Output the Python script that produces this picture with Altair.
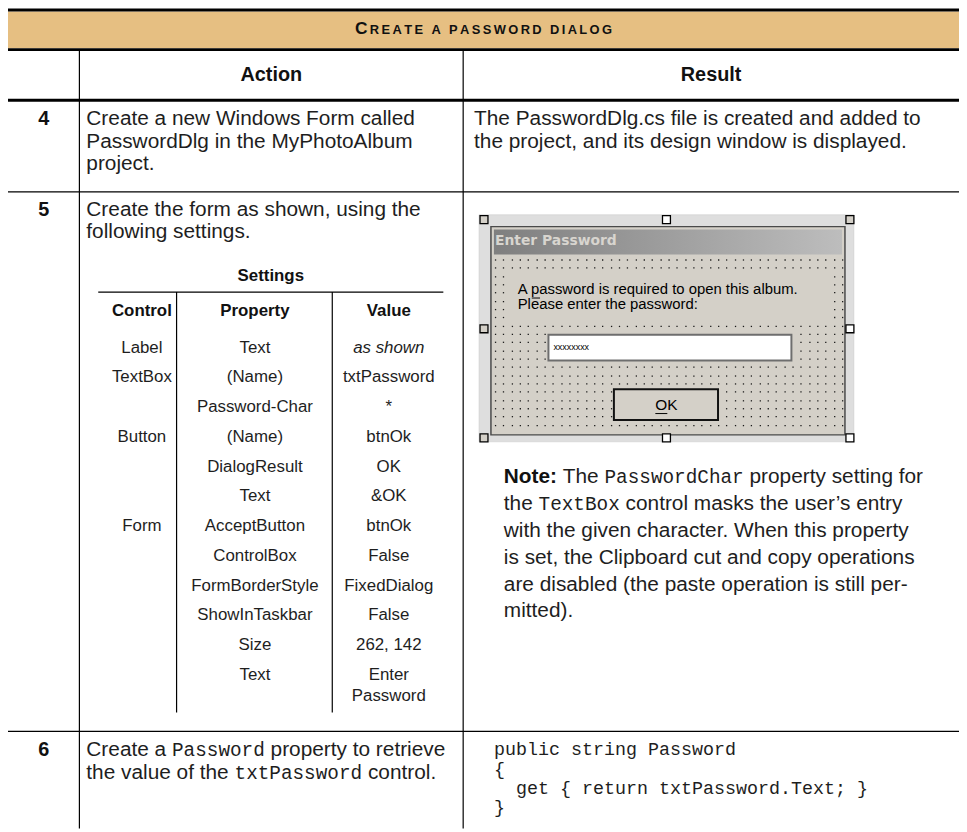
import altair as alt
import pandas as pd
import numpy as np

# ------------------------------------------------------------------ content
TITLE = "CREATE A PASSWORD DIALOG"
COL_HEADERS = ["Action", "Result"]
STEP_NUMBERS = ["4", "5", "6"]
ACTION_4 = ["Create a new Windows Form called", "PasswordDlg in the MyPhotoAlbum", "project."]
RESULT_4 = ["The PasswordDlg.cs file is created and added to",
            "the project, and its design window is displayed."]
ACTION_5 = ["Create the form as shown, using the", "following settings."]
SETTINGS_TITLE = "Settings"
SETTINGS_HEADERS = ["Control", "Property", "Value"]
SETTINGS_CONTROL = ["Label", "TextBox", "", "Button", "", "", "Form", "", "", "", "", ""]
SETTINGS_PROPERTY = ["Text", "(Name)", "Password-Char", "(Name)", "DialogResult", "Text",
                     "AcceptButton", "ControlBox", "FormBorderStyle", "ShowInTaskbar", "Size", "Text"]
SETTINGS_VALUE = ["as shown", "txtPassword", "*", "btnOk", "OK", "&OK", "btnOk", "False",
                  "FixedDialog", "False", "262, 142", "Enter\nPassword"]
DIALOG_TITLE = "Enter Password"
DIALOG_LABEL = ["A password is required to open this album.", "Please enter the password:"]
DIALOG_TEXTBOX = "xxxxxxxx"
DIALOG_BUTTON = "OK"
NOTE_LINES = [
    [("Note:", "bold"), (" The ", "reg"), ("PasswordChar", "mono"), (" property setting for", "reg")],
    [("the ", "reg"), ("TextBox", "mono"), (" control masks the user\u2019s entry", "reg")],
    [("with the given character. When this property", "reg")],
    [("is set, the Clipboard cut and copy operations", "reg")],
    [("are disabled (the paste operation is still per-", "reg")],
    [("mitted).", "reg")],
]
ACTION_6 = [
    [("Create a ", "reg"), ("Password", "mono"), (" property to retrieve", "reg")],
    [("the value of the ", "reg"), ("txtPassword", "mono"), (" control.", "reg")],
]
CODE_6 = ["public string Password", "{", "  get { return txtPassword.Text; }", "}"]

# ------------------------------------------------------------------ font metrics (Arial-compatible)
AR = {}
AR.update(dict(zip(" !\"#$%&'()*+,-./", [278, 278, 355, 556, 556, 889, 667, 191, 333, 333, 389, 584, 278, 333, 278, 278])))
AR.update({d: 556 for d in "0123456789"})
AR.update({":": 278, ";": 278, "?": 556, "\u2019": 222, "{": 334, "}": 334})
AR.update(dict(zip("ABCDEFGHIJKLMNOPQRSTUVWXYZ",
                   [667, 667, 722, 722, 667, 611, 778, 722, 278, 500, 667, 556, 833, 722, 778, 667, 778, 722, 667, 611, 722, 667, 944, 667, 667, 611])))
AR.update(dict(zip("abcdefghijklmnopqrstuvwxyz",
                   [556, 556, 500, 556, 556, 278, 556, 556, 222, 222, 500, 222, 833, 556, 556, 556, 556, 333, 500, 278, 556, 500, 722, 500, 500, 500])))
ARB = dict(AR)
ARB.update(dict(zip("ABCDEFGHIJKLMNOPQRSTUVWXYZ",
                    [722, 722, 722, 722, 667, 611, 778, 722, 278, 556, 722, 611, 833, 722, 778, 667, 778, 722, 667, 611, 722, 667, 944, 667, 667, 611])))
ARB.update(dict(zip("abcdefghijklmnopqrstuvwxyz",
                    [556, 611, 556, 611, 556, 333, 611, 611, 278, 278, 556, 278, 889, 611, 611, 611, 611, 389, 556, 333, 611, 556, 778, 556, 556, 500])))
ARB.update({":": 333})


def tw(s, size, st):
    if st == "mono":
        return 0.6 * size * len(s)
    table = ARB if st == "bold" else AR
    return sum(table.get(c, 556) for c in s) / 1000.0 * size


# ------------------------------------------------------------------ layout
BODY = 21
MONO = 19.5
T = []


def put(text, x, y, size, grp, align="left", base="middle"):
    T.append(dict(text=text, x=x, y=y, size=size, grp=grp, align=align, base=base))


def put_line(segs, x0, y, size, msize):
    x = x0
    for s, st in segs:
        sz = msize if st == "mono" else size
        lead = len(s) - len(s.lstrip(" "))
        core = s.strip(" ")
        if core:
            put(core, x + tw(" " * lead, sz, st), y, sz, st)
        x += tw(s, sz, st)


# title in small caps with tracking
tsizes = [17.5 if i == 0 else 13 for i in range(len(TITLE))]
track = 2.4
tot = sum(tw(c, s, "bold") for c, s in zip(TITLE, tsizes)) + track * (len(TITLE) - 1)
cx = 487.5 - tot / 2
for c, s in zip(TITLE, tsizes):
    if c != " ":
        put(c, cx, 31, s, "bold", base="alphabetic")
    cx += tw(c, s, "bold") + track

put(COL_HEADERS[0], 273.5, 72, 20, "bold", "center")
put(COL_HEADERS[1], 717, 72, 20, "bold", "center")

row_y = [117, 208, 753]
for n, y in zip(STEP_NUMBERS, row_y):
    put(n, 44, y, 20, "bold", "center")

LEAD = 22.5
for i, s in enumerate(ACTION_4):
    put(s, 87, 117 + i * LEAD, BODY, "reg")
for i, s in enumerate(RESULT_4):
    put(s, 478, 117 + i * LEAD, BODY, "reg")
for i, s in enumerate(ACTION_5):
    put(s, 87, 208 + i * LEAD, BODY, "reg")

# settings sub-table
put(SETTINGS_TITLE, 273, 275, 17, "bold", "center")
col_x = [143, 257, 392]
for h, x in zip(SETTINGS_HEADERS, col_x):
    put(h, x, 310, 17, "bold", "center")
for i, (c, p, v) in enumerate(zip(SETTINGS_CONTROL, SETTINGS_PROPERTY, SETTINGS_VALUE)):
    y = 347 + i * 30
    if c:
        put(c, col_x[0], y, 17, "reg", "center")
    put(p, col_x[1], y, 17, "reg", "center")
    for j, part in enumerate(v.split("\n")):
        put(part, col_x[2], y + j * 21.5, 17, "italic" if i == 0 else "reg", "center")

# note paragraph
for i, segs in enumerate(NOTE_LINES):
    put_line(segs, 508, 478 + i * 27, BODY, MONO)

# step 6
for i, segs in enumerate(ACTION_6):
    put_line(segs, 87, 753 + i * 23.5, BODY, MONO)
for i, s in enumerate(CODE_6):
    lead = len(s) - len(s.lstrip(" "))
    put(s.strip(), 498 + lead * 0.6 * 18.5, 752 + i * 19.5, 18.5, "mono")

# dialog texts
DLG = 15
put(DIALOG_TITLE, 499, 240, 14, "dtitle")
for i, s in enumerate(DIALOG_LABEL):
    put(s, 522, 288 + i * 15.5, DLG, "dlg")
put(DIALOG_TEXTBOX, 558, 346, 9, "dlg")
put(DIALOG_BUTTON, 672, 404.5, 15.5, "dlg", "center")

# ------------------------------------------------------------------ rules
R = []


def rule(x, x2, y, y2, w, c="#000000"):
    R.append(dict(x=x, x2=x2, y=y, y2=y2, w=w, c=c))


rule(8, 967, 6.5, 6.5, 3)
rule(8, 967, 46.5, 46.5, 3)
rule(8, 967, 97.5, 97.5, 3)
rule(8, 967, 190, 190, 1.2)
rule(8, 967, 734, 734, 1.2)
rule(80, 80, 48, 832, 1.2)
rule(467, 467, 48, 832, 1.2)
rule(99, 447, 291, 291, 1.2)
rule(178, 178, 291, 715, 1.2)
rule(335, 335, 291, 715, 1.2)
# mnemonic underlines in the dialog
ux = 522 + tw("A ", DLG, "reg")
rule(ux, ux + tw("p", DLG, "reg"), 297, 297, 1)
okw = tw("OK", 15.5, "reg")
rule(672 - okw / 2, 672 - okw / 2 + tw("O", 15.5, "reg"), 413.5, 413.5, 1)

# ------------------------------------------------------------------ rectangles
base_rects = pd.DataFrame([
    dict(x=8, x2=967, y=8, y2=45, fill="#E6BF82", stroke="#E6BF82", sw=0),
    dict(x=483, x2=861, y=213, y2=442, fill="#DEDEDE", stroke="#C8C8C8", sw=0.5),
    dict(x=495, x2=852, y=225, y2=435, fill="#D4D0C8", stroke="#4A4A4A", sw=1.5),
])
control_rects = pd.DataFrame([
    dict(x=553, x2=798, y=334, y2=360, fill="#FFFFFF", stroke="#6E6E6E", sw=2),
    dict(x=619, x2=724, y=389, y2=420, fill="#D4D0C8", stroke="#111111", sw=2),
])
handles_c = [(488, 218, "#D4D0C8"), (672, 218, "#FFFFFF"), (857, 218, "#D4D0C8"),
             (488, 328, "#D4D0C8"), (857, 328, "#FFFFFF"),
             (488, 438, "#D4D0C8"), (672, 438, "#FFFFFF"), (857, 438, "#FFFFFF")]
handles = pd.DataFrame([dict(x=hx - 4, x2=hx + 4, y=hy - 4, y2=hy + 4, fill=f, stroke="#000000", sw=1.3)
                        for hx, hy, f in handles_c])

# design-grid dots
holes = [(513, 835, 268, 318), (551, 800, 332, 362), (617, 726, 387, 422)]
dots = []
for gy in np.arange(258, 431, 8.33):
    for gx in np.arange(499, 849, 8.33):
        if any(a <= gx <= b and c <= gy <= d for a, b, c, d in holes):
            continue
        dots.append(dict(x=round(gx), x2=round(gx) + 1.3, y=round(gy), y2=round(gy) + 1.3))
dots = pd.DataFrame(dots)

# ------------------------------------------------------------------ chart
XS = alt.Scale(domain=[8, 967], nice=False, zero=False)
YS = alt.Scale(domain=[8, 832], nice=False, zero=False, reverse=True)


def xy():
    return dict(x=alt.X("x:Q", scale=XS, axis=None), y=alt.Y("y:Q", scale=YS, axis=None))


def rect_layer(df):
    return alt.Chart(df).mark_rect().encode(
        x2=alt.X2("x2"), y2=alt.Y2("y2"),
        fill=alt.Fill("fill:N", scale=None), stroke=alt.Stroke("stroke:N", scale=None),
        strokeWidth=alt.StrokeWidth("sw:Q", scale=None), **xy())


title_bar = alt.Chart(pd.DataFrame([dict(x=498, x2=849, y=228, y2=253)])).mark_rect(
    fill=alt.LinearGradient(gradient="linear", x1=0, x2=1, y1=0, y2=0,
                            stops=[alt.GradientStop(color="#7F7F7F", offset=0),
                                   alt.GradientStop(color="#BDBDBD", offset=1)])
).encode(x2=alt.X2("x2"), y2=alt.Y2("y2"), **xy())

dot_layer = alt.Chart(dots).mark_rect(color="#1A1A1A").encode(x2=alt.X2("x2"), y2=alt.Y2("y2"), **xy())

rule_layer = alt.Chart(pd.DataFrame(R)).mark_rule().encode(
    x2=alt.X2("x2"), y2=alt.Y2("y2"),
    size=alt.Size("w:Q", scale=None), color=alt.Color("c:N", scale=None), **xy())

STYLES = {
    "reg": dict(font="Liberation Sans", fontWeight="normal", fontStyle="normal", color="#1E1E1E"),
    "bold": dict(font="Liberation Sans", fontWeight="bold", fontStyle="normal", color="#111111"),
    "italic": dict(font="Liberation Sans", fontWeight="normal", fontStyle="italic", color="#1E1E1E"),
    "mono": dict(font="Liberation Mono", fontWeight="normal", fontStyle="normal", color="#1E1E1E"),
    "dtitle": dict(font="DejaVu Sans", fontWeight="bold", fontStyle="normal", color="#D8D5CF"),
    "dlg": dict(font="Liberation Sans", fontWeight="normal", fontStyle="normal", color="#000000"),
}

tdf = pd.DataFrame(T)
text_layers = []
for (grp, align, base), sub in tdf.groupby(["grp", "align", "base"]):
    st = STYLES[grp]
    text_layers.append(
        alt.Chart(sub.reset_index(drop=True)).mark_text(
            align=align, baseline=base, font=st["font"], fontWeight=st["fontWeight"],
            fontStyle=st["fontStyle"], color=st["color"]
        ).encode(text="text:N", size=alt.Size("size:Q", scale=None), **xy())
    )

chart = alt.layer(
    rect_layer(base_rects), title_bar, dot_layer, rect_layer(control_rects),
    rect_layer(handles), rule_layer, *text_layers
).properties(
    width=959, height=824, autosize=alt.AutoSizeParams(type="none"), padding=0,
    background="#FFFFFF"
).configure_view(stroke=None)

chart.save("out.html", embed_options={"renderer": "svg", "actions": False})
